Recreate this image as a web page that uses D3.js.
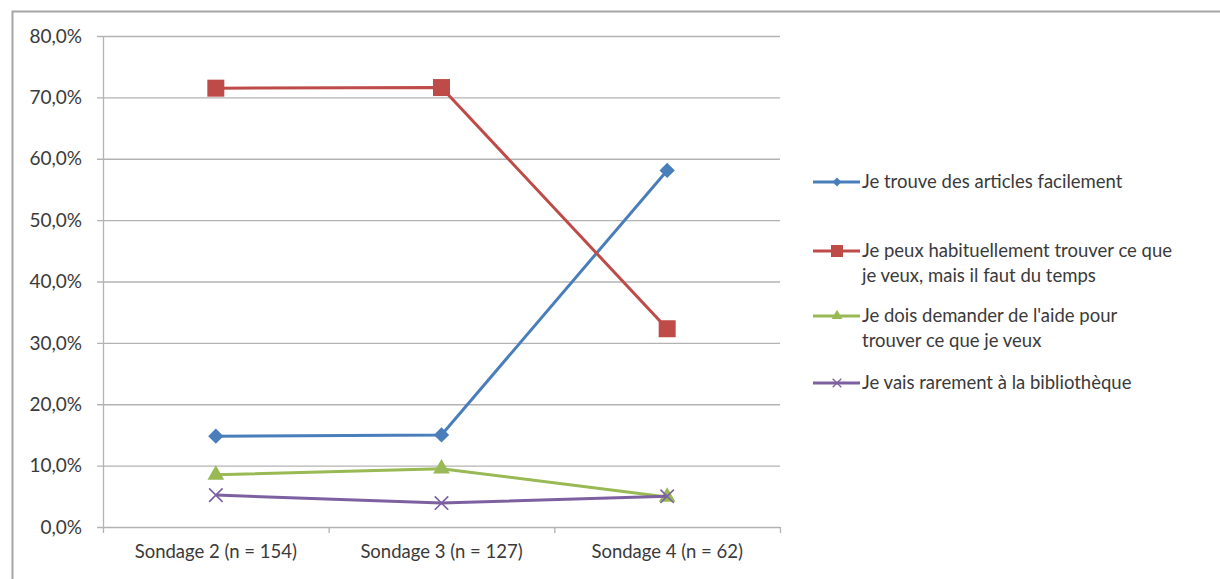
<!DOCTYPE html>
<html>
<head>
<meta charset="utf-8">
<script src="https://cdn.jsdelivr.net/npm/d3@7"></script>
<style>
  body { margin: 0; background: #fff; }
  text { font-family: Lato, "Open Sans", sans-serif; fill: #3a3a3a; }
</style>
</head>
<body>
<div id="chart"></div>
<script>
// categories & series
const sondages = ["Sondage 2 (n = 154)", "Sondage 3 (n = 127)", "Sondage 4 (n = 62)"];
const trouveFacilement = [14.8, 15.0, 58.1];
const habituellement = [71.5, 71.6, 32.3];
const demanderAide = [8.5, 9.5, 4.9];
const rarement = [5.2, 3.9, 5.0];
const yTicks = [0, 10, 20, 30, 40, 50, 60, 70, 80];

const series = [
  {name: ["Je trouve des articles facilement"], values: trouveFacilement, color: "#4a7ebb", marker: "diamond", ly: 182},
  {name: ["Je peux habituellement trouver ce que", "je veux, mais il faut du temps"], values: habituellement, color: "#be4b48", marker: "square", ly: 251},
  {name: ["Je dois demander de l'aide pour", "trouver ce que je veux"], values: demanderAide, color: "#98b954", marker: "triangle", ly: 316},
  {name: ["Je vais rarement à la bibliothèque"], values: rarement, color: "#7d60a0", marker: "cross", ly: 383}
];

const W = 1220, H = 579;
const svg = d3.select("#chart").append("svg")
    .attr("width", W).attr("height", H);

// outer frame
svg.append("rect")
    .attr("x", 12.5).attr("y", 11.5)
    .attr("width", W).attr("height", H)
    .attr("fill", "none").attr("stroke", "#a6a6a6").attr("stroke-width", 2);

const pLeft = 103, pRight = 780, pTop = 36, pBottom = 527;

const x = d3.scaleBand().domain(sondages).range([pLeft, pRight]);
const y = d3.scaleLinear().domain([0, 80]).range([pBottom, pTop]);

// grid
svg.append("g")
  .selectAll("line").data(yTicks).join("line")
    .attr("x1", pLeft - 6).attr("x2", pRight)
    .attr("y1", d => y(d) + 0.5).attr("y2", d => y(d) + 0.5)
    .attr("stroke", "#b3b3b3").attr("stroke-width", 1.3);

// y axis line
svg.append("line")
    .attr("x1", pLeft + 0.5).attr("x2", pLeft + 0.5)
    .attr("y1", pTop).attr("y2", pBottom + 6)
    .attr("stroke", "#b3b3b3").attr("stroke-width", 1.3);

// y labels
svg.append("g")
  .selectAll("text").data(yTicks).join("text")
    .attr("x", pLeft - 21).attr("y", d => y(d))
    .attr("dy", "0.35em").attr("text-anchor", "end")
    .style("font-size", "19px")
    .text(d => d.toFixed(1).replace(".", ",") + "%");

// x axis ticks
const bounds = [pRight - 2 * x.bandwidth(), pRight - x.bandwidth(), pRight];
svg.append("g")
  .selectAll("line").data(bounds).join("line")
    .attr("x1", d => d + 0.5).attr("x2", d => d + 0.5)
    .attr("y1", pBottom).attr("y2", pBottom + 6)
    .attr("stroke", "#b3b3b3").attr("stroke-width", 1.3);

svg.append("g")
  .selectAll("text").data(sondages).join("text")
    .attr("x", d => x(d) + x.bandwidth() / 2).attr("y", 558)
    .attr("text-anchor", "middle")
    .style("font-size", "18.5px")
    .text(d => d);

const cx = (d, i) => x(sondages[i]) + x.bandwidth() / 2;
const line = d3.line().x(cx).y(d => y(d));

function drawMarker(g, type, color, px, py) {
  if (type === "diamond") {
    g.append("path").attr("d", d3.symbol(d3.symbolDiamond2, 150)())
      .attr("transform", `translate(${px},${py})`).attr("fill", color);
  } else if (type === "square") {
    g.append("rect").attr("x", px - 8.5).attr("y", py - 8.5)
      .attr("width", 17).attr("height", 17).attr("fill", color);
  } else if (type === "triangle") {
    g.append("path").attr("d", d3.symbol(d3.symbolTriangle, 120)())
      .attr("transform", `translate(${px},${py})`).attr("fill", color);
  } else {
    g.append("path").attr("d", d3.symbol(d3.symbolX, 120)())
      .attr("transform", `translate(${px},${py})`)
      .attr("fill", "none").attr("stroke", color).attr("stroke-width", 1.6);
  }
}

const plot = svg.append("g");
series.forEach(s => {
  plot.append("path").datum(s.values)
    .attr("d", line).attr("fill", "none")
    .attr("stroke", s.color).attr("stroke-width", 3);
  s.values.forEach((v, i) => drawMarker(plot, s.marker, s.color, cx(v, i), y(v)));
});

// legend
const leg = svg.append("g");
series.forEach(s => {
  leg.append("line").attr("x1", 813).attr("x2", 860)
    .attr("y1", s.ly).attr("y2", s.ly)
    .attr("stroke", s.color).attr("stroke-width", 3);
  if (s.marker === "square") {
    leg.append("rect").attr("x", 831).attr("y", s.ly - 6).attr("width", 12).attr("height", 12).attr("fill", s.color);
  } else if (s.marker === "diamond") {
    leg.append("path").attr("d", d3.symbol(d3.symbolDiamond2, 50)())
      .attr("transform", `translate(837,${s.ly})`).attr("fill", s.color);
  } else if (s.marker === "triangle") {
    leg.append("path").attr("d", d3.symbol(d3.symbolTriangle, 50)())
      .attr("transform", `translate(837,${s.ly})`).attr("fill", s.color);
  } else {
    leg.append("path").attr("d", d3.symbol(d3.symbolX, 50)())
      .attr("transform", `translate(837,${s.ly})`)
      .attr("fill", "none").attr("stroke", s.color).attr("stroke-width", 1.3);
  }
  const t = leg.append("text").attr("x", 862).attr("y", s.ly)
    .style("font-size", "18.5px");
  s.name.forEach((n, k) => t.append("tspan").attr("x", 862).attr("dy", k === 0 ? "0.35em" : "24.5px").text(n));
});
</script>
</body>
</html>
